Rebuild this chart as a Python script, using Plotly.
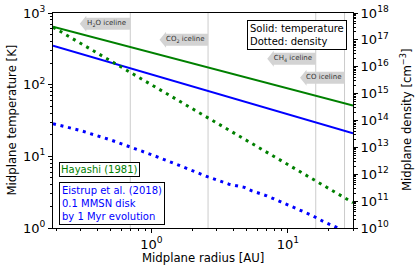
import numpy as np
import plotly.graph_objects as go

# ---------------- data ----------------
r_temp = [0.19, 0.5, 1, 2, 5, 10, 20, 30]
T_hayashi = [642, 396, 280, 198, 125, 88.5, 62.6, 51.1]
T_eistrup = [349, 204, 139, 94.6, 56.8, 38.7, 26.3, 21.0]

r_dens_h = [0.19, 0.5, 1, 2, 5, 10, 20, 30]
n_hayashi = [2.97e17, 1.67e16, 2.14e15, 2.73e14, 1.79e13, 2.29e12, 2.92e11, 8.77e10]

r_dens_e = [0.19, 0.3, 0.5, 0.7, 1.0, 1.5, 2.0, 2.6, 3.7, 4.8, 5.4, 7.0, 8.9, 11.4, 14.7, 18.4, 23, 30]
n_eistrup = [7.6e13, 4.27e13, 1.91e13, 1.05e13, 5.37e12, 2.43e12, 1.35e12, 7.94e11, 4.27e11,
             3.24e11, 2.45e11, 1.58e11, 9.33e10, 5.50e10, 3.09e10, 1.70e10, 1.05e10, 5.6e9]

iceline_r = [0.7, 2.6, 16, 26]
iceline_labels = ["H<sub>2</sub>O iceline", "CO<sub>2</sub> iceline", "CH<sub>4</sub> iceline", "CO iceline"]
iceline_label_T = [709, 424, 230, 125]      # vertical placement of the labels (temperature units)
arrow_body_px = [44, 42, 42, 38]

left_ticks = [1, 10, 100, 1000]
left_ticktext = ["10<sup>0</sup>", "10<sup>1</sup>", "10<sup>2</sup>", "10<sup>3</sup>"]
right_ticks = [10.0 ** k for k in range(10, 19)]
right_ticktext = ["10<sup>%d</sup>" % k for k in range(10, 19)]
x_ticks = [1, 10]
x_ticktext = ["10<sup>0</sup>", "10<sup>1</sup>"]

# ---------------- layout geometry ----------------
W, H = 416, 272
ML, MR, MT, MB = 53, 63, 13, 44
PW, PH = W - ML - MR, H - MT - MB
XR = [np.log10(0.19), np.log10(30)]
YR = [0, 3]
Y2R = [10, 18]
dec_per_px_x = (XR[1] - XR[0]) / PW
dec_per_px_y = (YR[1] - YR[0]) / PH

FONT = "DejaVu Sans"
GREEN = "#008000"
BLUE = "#0000ff"
GREY = "#d3d3d3"

fig = go.Figure()

# iceline vertical lines
for r in iceline_r:
    fig.add_trace(go.Scatter(x=[r, r], y=[1, 1000], mode="lines",
                             line=dict(color="#cccccc", width=1), hoverinfo="skip",
                             showlegend=False))

# iceline arrows
for r, lab, Tc, body in zip(iceline_r, iceline_labels, iceline_label_T, arrow_body_px):
    hb, hh, head = 6.0, 8.0, 6.5
    xl = r * 10 ** (-body * dec_per_px_x)
    xt = xl * 10 ** (-head * dec_per_px_x)
    up_b = Tc * 10 ** (hb * dec_per_px_y)
    dn_b = Tc * 10 ** (-hb * dec_per_px_y)
    up_h = Tc * 10 ** (hh * dec_per_px_y)
    dn_h = Tc * 10 ** (-hh * dec_per_px_y)
    xs = [r, xl, xl, xt, xl, xl, r, r]
    ys = [up_b, up_b, up_h, Tc, dn_h, dn_b, dn_b, up_b]
    fig.add_trace(go.Scatter(x=xs, y=ys, mode="lines", fill="toself", fillcolor=GREY,
                             line=dict(width=0, color=GREY), hoverinfo="skip", showlegend=False))
    xc = 10 ** ((np.log10(r) + np.log10(xt)) / 2 + 1.5 * dec_per_px_x)
    fig.add_trace(go.Scatter(x=[xc], y=[Tc], mode="text", text=[lab],
                             textfont=dict(family=FONT, size=7, color="#333333"),
                             textposition="middle center", hoverinfo="skip", showlegend=False))

# temperature (solid)
fig.add_trace(go.Scatter(x=r_temp, y=T_hayashi, mode="lines",
                         line=dict(color=GREEN, width=2), showlegend=False))
fig.add_trace(go.Scatter(x=r_temp, y=T_eistrup, mode="lines",
                         line=dict(color=BLUE, width=2), showlegend=False))

# density (dotted)
fig.add_trace(go.Scatter(x=r_dens_h, y=n_hayashi, mode="lines", yaxis="y2",
                         line=dict(color=GREEN, width=3, dash="3px,4.7px"), showlegend=False))
fig.add_trace(go.Scatter(x=r_dens_e, y=n_eistrup, mode="lines", yaxis="y2",
                         line=dict(color=BLUE, width=3, dash="3px,4.7px"), showlegend=False))


def minor_vals(lo, hi):
    out = []
    for k in range(lo, hi):
        for m in range(2, 10):
            out.append(m * 10.0 ** k)
    return out


axis_common = dict(showgrid=False, zeroline=False, showline=True, linecolor="black",
                   linewidth=1, ticks="outside", ticklen=4, tickcolor="black", automargin=False,
                   tickfont=dict(family=FONT, size=13, color="black"))

fig.update_layout(
    width=W, height=H,
    margin=dict(l=ML, r=MR, t=MT, b=MB, autoexpand=False),
    paper_bgcolor="white", plot_bgcolor="white",
    font=dict(family=FONT, color="black"),
    xaxis=dict(type="log", range=XR, tickvals=x_ticks, ticktext=x_ticktext, mirror=True,
               minor=dict(tickvals=minor_vals(-1, 2), ticks="outside", ticklen=2, tickcolor="black"),
               **axis_common),
    yaxis=dict(type="log", range=YR, tickvals=left_ticks, ticktext=left_ticktext,
               minor=dict(tickvals=minor_vals(0, 3), ticks="outside", ticklen=2, tickcolor="black"),
               **axis_common),
    yaxis2=dict(type="log", range=Y2R, overlaying="y", side="right",
                tickvals=right_ticks, ticktext=right_ticktext,
                minor=dict(tickvals=minor_vals(10, 18), ticks="outside", ticklen=2, tickcolor="black"),
                **axis_common),
)

title_font = dict(family=FONT, size=11.7, color="black")
fig.add_annotation(xref="paper", yref="paper", x=0.5, y=-0.14, xanchor="center", yanchor="middle",
                   text="Midplane radius [AU]", showarrow=False, font=title_font)
fig.add_annotation(xref="paper", yref="paper", x=-0.14, y=0.5, xanchor="center", yanchor="middle",
                   text="Midplane temperature [K]", showarrow=False, font=title_font, textangle=-90)
fig.add_annotation(xref="paper", yref="paper", x=1.175, y=0.5, xanchor="center", yanchor="middle",
                   text="Midplane density [cm<sup>\u22123</sup>]", showarrow=False, font=title_font,
                   textangle=-90)

ann_font = dict(family=FONT, size=10)
fig.add_annotation(xref="paper", yref="paper", x=0.979, y=0.967, xanchor="right", yanchor="top",
                   text="Solid: temperature<br>Dotted: density", align="left", showarrow=False,
                   font=dict(ann_font, color="black"), bgcolor="white",
                   bordercolor="black", borderwidth=1, borderpad=2)
fig.add_annotation(xref="paper", yref="paper", x=0.02, y=0.308, xanchor="left", yanchor="top",
                   text="Hayashi (1981)", align="left", showarrow=False,
                   font=dict(ann_font, color=GREEN), bgcolor="white",
                   bordercolor="black", borderwidth=1, borderpad=1)
fig.add_annotation(xref="paper", yref="paper", x=0.02, y=0.215, xanchor="left", yanchor="top",
                   text="Eistrup et al. (2018)<br>0.1 MMSN disk<br>by 1 Myr evolution", align="left",
                   showarrow=False, font=dict(ann_font, color=BLUE), bgcolor="white",
                   bordercolor="black", borderwidth=1, borderpad=2)

fig.write_html("out.html", config={"displayModeBar": False},
               post_script="document.body.style.margin='0px';")
